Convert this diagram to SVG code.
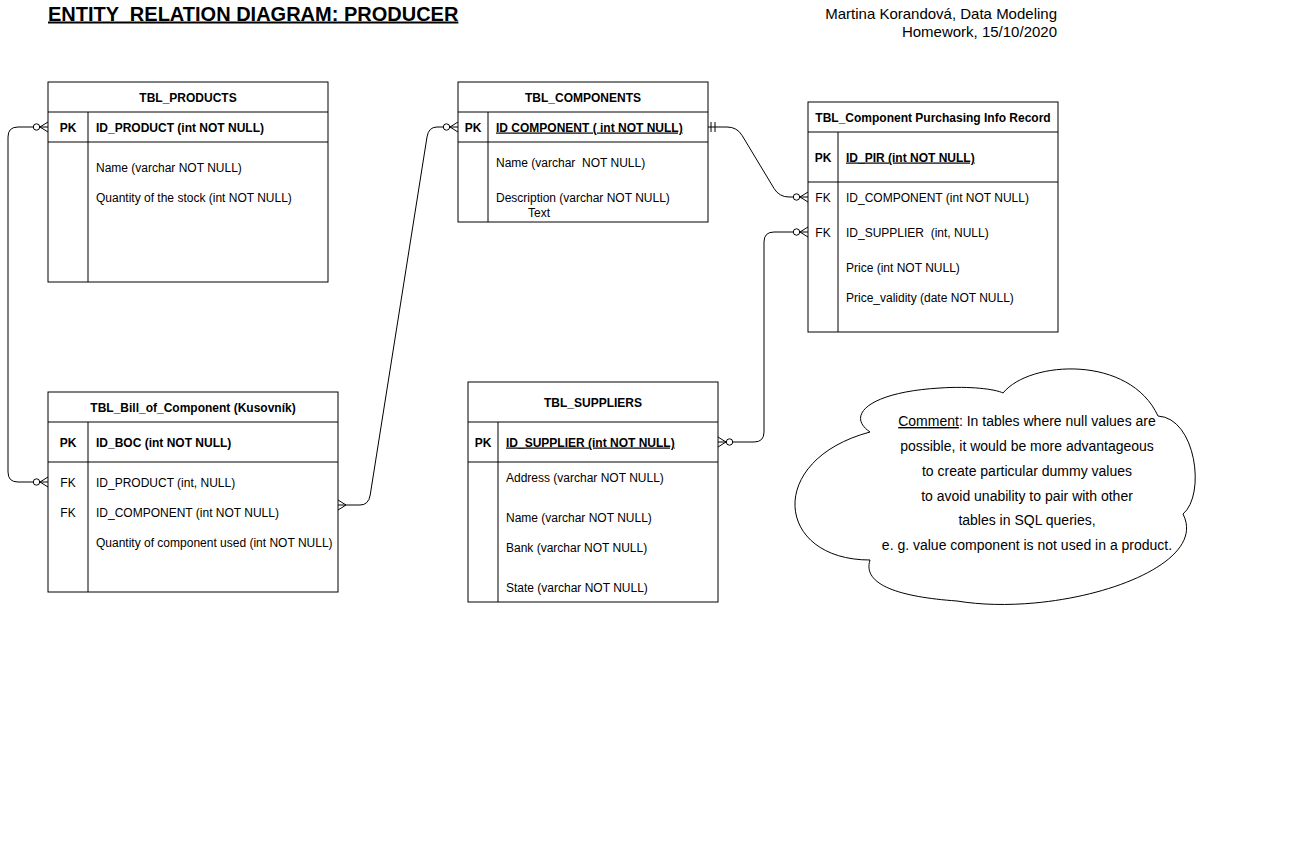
<svg xmlns="http://www.w3.org/2000/svg" width="1289" height="858" viewBox="0 0 1289 858">
<style>
text{font-family:"Liberation Sans",Arial,sans-serif;font-size:12px;fill:#000}
.b{font-weight:bold}
.u{text-decoration:underline}
.c{text-anchor:middle}
.box{fill:#fff;stroke:#000;stroke-width:1}
.ln{stroke:#000;stroke-width:1;fill:none}
.conn{stroke:#000;stroke-width:1;fill:none}
.cm{font-size:14px}
</style>
<defs>
<marker id="zm" markerUnits="userSpaceOnUse" viewBox="-16 -7 17 14" refX="0" refY="0" markerWidth="17" markerHeight="14" orient="auto-start-reverse">
<path d="M0,-5 L-8,0 L0,5" fill="none" stroke="#000"/>
<circle cx="-11.5" cy="0" r="3.2" fill="#fff" stroke="#000"/>
</marker>
<marker id="mn" markerUnits="userSpaceOnUse" viewBox="-16 -7 17 14" refX="0" refY="0" markerWidth="17" markerHeight="14" orient="auto-start-reverse">
<path d="M0,-5 L-8,0 L0,5" fill="none" stroke="#000"/>
</marker>
<marker id="m1" markerUnits="userSpaceOnUse" viewBox="-16 -7 17 14" refX="0" refY="0" markerWidth="17" markerHeight="14" orient="auto-start-reverse">
<path d="M-3,-5 V5 M-7,-5 V5" fill="none" stroke="#000"/>
</marker>
</defs>
<rect width="1289" height="858" fill="#fff"/>

<g id="title">
<text x="48" y="20.5" class="b u" style="font-size:20px" xml:space="preserve">ENTITY  RELATION DIAGRAM: PRODUCER</text>
<text x="1057" y="19" style="font-size:15px;text-anchor:end">Martina Korandová, Data Modeling</text>
<text x="1057" y="37" style="font-size:15px;text-anchor:end">Homework, 15/10/2020</text>
</g>

<g id="connectors">
<path class="conn" d="M48,127 H18 Q8,127 8,137 V472 Q8,482 18,482 H48" marker-start="url(#zm)" marker-end="url(#zm)"/>
<path class="conn" d="M338,505 H360 Q368.6,505 370.2,495 L427,137 Q428.6,127 437,127 H458" marker-start="url(#mn)" marker-end="url(#zm)"/>
<path class="conn" d="M708,127 H727 Q737,127 742.2,135.6 L774,188.4 Q779.2,197 789,197 H808" marker-start="url(#m1)" marker-end="url(#zm)"/>
<path class="conn" d="M718,442 H754 Q764,442 764,432 V242 Q764,232 774,232 H808" marker-start="url(#zm)" marker-end="url(#zm)"/>
</g>

<g id="tbl_products">
<rect class="box" x="48" y="82" width="280" height="200"/>
<path class="ln" d="M48,112 H328 M48,142 H328 M88,112 V282"/>
<text x="188" y="101.5" class="b c">TBL_PRODUCTS</text>
<text x="68" y="131.5" class="b c">PK</text>
<text x="96" y="131.5" class="b">ID_PRODUCT (int NOT NULL)</text>
<text x="96" y="171.5">Name (varchar NOT NULL)</text>
<text x="96" y="201.5">Quantity of the stock (int NOT NULL)</text>
</g>

<g id="tbl_components">
<rect class="box" x="458" y="82" width="250" height="140"/>
<path class="ln" d="M458,112 H708 M458,142 H708 M488,112 V222"/>
<text x="583" y="101.5" class="b c">TBL_COMPONENTS</text>
<text x="473" y="131.5" class="b c">PK</text>
<text x="496" y="131.5" class="b u">ID COMPONENT ( int NOT NULL)</text>
<text x="496" y="166.5" xml:space="preserve">Name (varchar  NOT NULL)</text>
<text x="496" y="201.5">Description (varchar NOT NULL)</text>
<text x="528" y="216.5">Text</text>
</g>

<g id="tbl_pir">
<rect class="box" x="808" y="102" width="250" height="230"/>
<path class="ln" d="M808,132 H1058 M808,182 H1058 M838,132 V332"/>
<text x="933" y="121.5" class="b c">TBL_Component Purchasing Info Record</text>
<text x="823" y="161.5" class="b c">PK</text>
<text x="846" y="161.5" class="b u">ID_PIR (int NOT NULL)</text>
<text x="823" y="201.5" class="c">FK</text>
<text x="846" y="201.5">ID_COMPONENT (int NOT NULL)</text>
<text x="823" y="236.5" class="c">FK</text>
<text x="846" y="236.5" xml:space="preserve">ID_SUPPLIER  (int, NULL)</text>
<text x="846" y="271.5">Price (int NOT NULL)</text>
<text x="846" y="301.5">Price_validity (date NOT NULL)</text>
</g>

<g id="tbl_boc">
<rect class="box" x="48" y="392" width="290" height="200"/>
<path class="ln" d="M48,422 H338 M48,462 H338 M88,422 V592"/>
<text x="193" y="411.5" class="b c">TBL_Bill_of_Component (Kusovník)</text>
<text x="68" y="446.5" class="b c">PK</text>
<text x="96" y="446.5" class="b">ID_BOC (int NOT NULL)</text>
<text x="68" y="486.5" class="c">FK</text>
<text x="96" y="486.5">ID_PRODUCT (int, NULL)</text>
<text x="68" y="516.5" class="c">FK</text>
<text x="96" y="516.5">ID_COMPONENT (int NOT NULL)</text>
<text x="96" y="546.5">Quantity of component used (int NOT NULL)</text>
</g>

<g id="tbl_suppliers">
<rect class="box" x="468" y="382" width="250" height="220"/>
<path class="ln" d="M468,422 H718 M468,462 H718 M498,422 V602"/>
<text x="593" y="406.5" class="b c">TBL_SUPPLIERS</text>
<text x="483" y="446.5" class="b c">PK</text>
<text x="506" y="446.5" class="b u">ID_SUPPLIER (int NOT NULL)</text>
<text x="506" y="481.5">Address (varchar NOT NULL)</text>
<text x="506" y="521.5">Name (varchar NOT NULL)</text>
<text x="506" y="551.5">Bank (varchar NOT NULL)</text>
<text x="506" y="591.5">State (varchar NOT NULL)</text>
</g>

<g id="comment">
<path class="box" d="M870,432 C845,415 870,392 940,388 C970,386 995,389 1003,393 C1030,360 1130,355 1158,416 C1196,418 1206,495 1183,514 C1212,570 1060,618 957,601 C900,597 862,585 870,560 C775,560 765,460 870,432 Z"/>
<text x="1027" y="426" class="c cm"><tspan class="u">Comment</tspan>: In tables where null values are</text>
<text x="1027" y="450.5" class="c cm">possible, it would be more advantageous</text>
<text x="1027" y="475.5" class="c cm">to create particular dummy values</text>
<text x="1027" y="500.5" class="c cm">to avoid unability to pair with other</text>
<text x="1027" y="525" class="c cm">tables in SQL queries,</text>
<text x="1027" y="550" class="c cm">e. g. value component is not used in a product.</text>
</g>
</svg>
